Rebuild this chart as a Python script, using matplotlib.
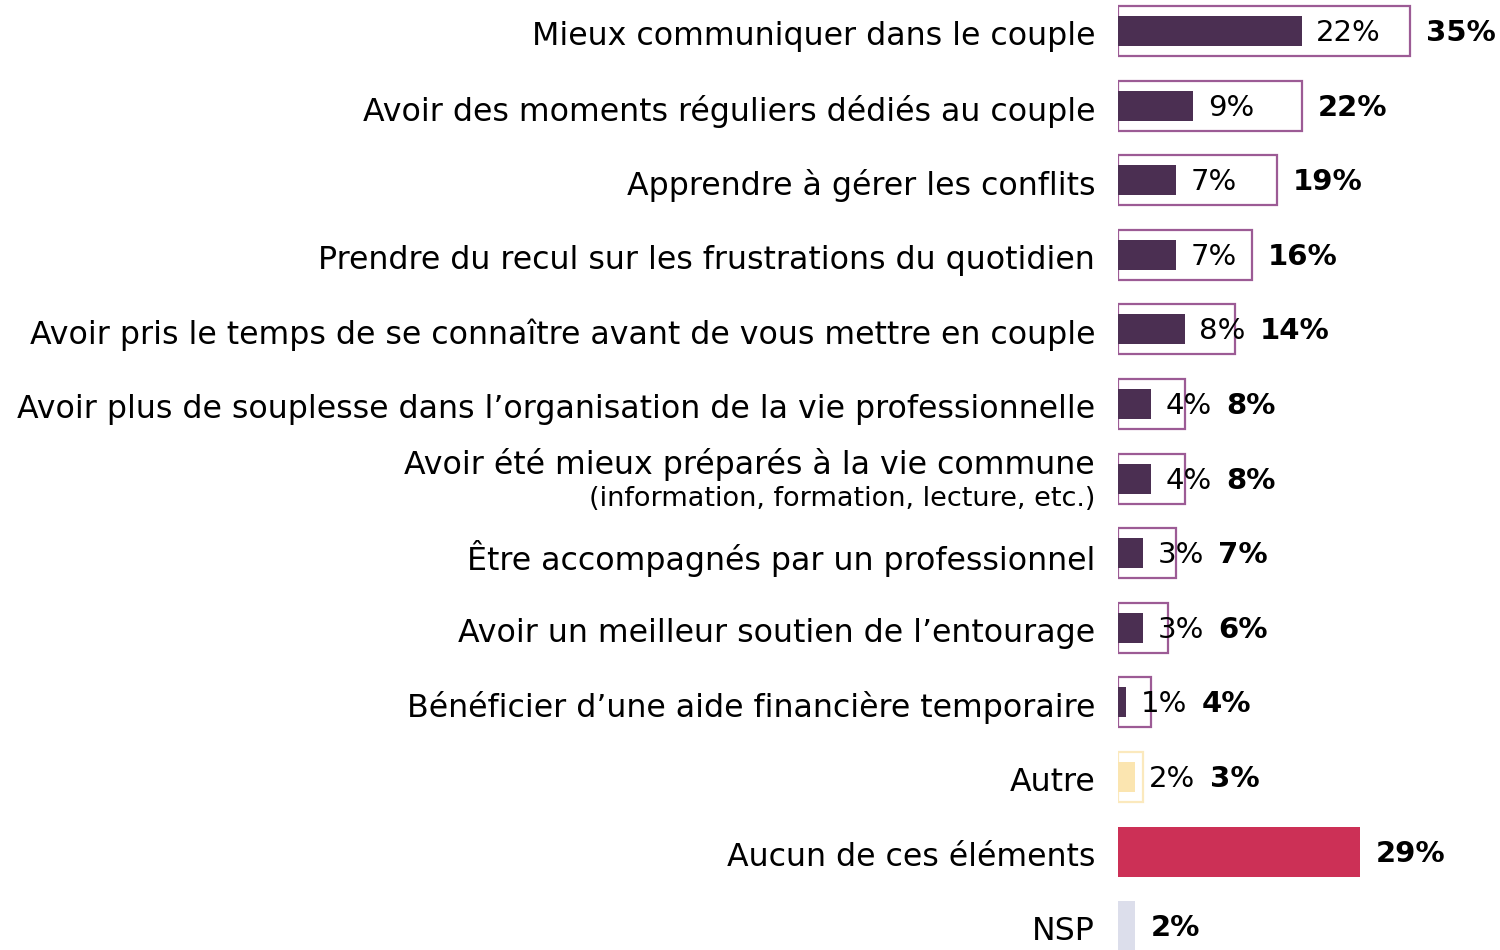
import matplotlib
matplotlib.use("Agg")
import matplotlib.pyplot as plt

plt.rcParams["font.family"] = ["DejaVu Sans"]

labels = [
    "Mieux communiquer dans le couple",
    "Avoir des moments réguliers dédiés au couple",
    "Apprendre à gérer les conflits",
    "Prendre du recul sur les frustrations du quotidien",
    "Avoir pris le temps de se connaître avant de vous mettre en couple",
    "Avoir plus de souplesse dans l’organisation de la vie professionnelle",
    "Avoir été mieux préparés à la vie commune",
    "Être accompagnés par un professionnel",
    "Avoir un meilleur soutien de l’entourage",
    "Bénéficier d’une aide financière temporaire",
    "Autre",
    "Aucun de ces éléments",
    "NSP",
]
sublabels = {6: "(information, formation, lecture, etc.)"}
first_choice = [22, 9, 7, 7, 8, 4, 4, 3, 3, 1, 2, None, None]
total = [35, 22, 19, 16, 14, 8, 8, 7, 6, 4, 3, 29, 2]

PURPLE = "#4b2f52"
EDGE = "#9c5b95"
fill_in = [PURPLE] * 10 + ["#fbe5b0", None, None]
edge_out = [EDGE] * 10 + ["#fbe9bd", None, None]
solid = {11: "#cc3056", 12: "#dcdeeb"}

W, H, DPI = 1500, 950, 100
fig = plt.figure(figsize=(W / DPI, H / DPI), dpi=DPI)

x0 = 1118
px_per_pct = 8.35
row = 74.6
top_c = 31
ax = fig.add_axes([x0 / W, (H - (top_c + 12.5 * row)) / H,
                   (W - x0) / W, 13 * row / H])
ax.set_xlim(0, (W - x0) / px_per_pct)
ax.set_ylim(12.5, -0.5)
ax.axis("off")

LAB_FS = 22.8
for i, lab in enumerate(labels):
    if i in solid:
        ax.barh(i, total[i], height=0.67, color=solid[i], linewidth=0)
    else:
        ax.barh(i, total[i], height=0.67, color="white",
                edgecolor=edge_out[i], linewidth=1.6)
        ax.barh(i, first_choice[i], height=0.4, color=fill_in[i], linewidth=0)

    if i in sublabels:
        ax.annotate(lab, xy=(0, i), xytext=(-16.5, 10), textcoords="offset points",
                    ha="right", va="center", fontsize=LAB_FS, annotation_clip=False)
        ax.annotate(sublabels[i], xy=(0, i), xytext=(-16.5, -15),
                    textcoords="offset points", ha="right", va="center",
                    fontsize=19.5, annotation_clip=False)
    else:
        ax.annotate(lab, xy=(0, i), xytext=(-16.5, -4), textcoords="offset points",
                    ha="right", va="center", fontsize=LAB_FS, annotation_clip=False)

fig.canvas.draw()
r = fig.canvas.get_renderer()
inv = ax.transData.inverted()

for i in range(len(labels)):
    end_px = ax.transData.transform((total[i], i))[0]
    bold_px = end_px + 16
    if first_choice[i] is not None:
        t = ax.annotate(f"{first_choice[i]}%", xy=(first_choice[i], i),
                        xytext=(10.5, -1.5), textcoords="offset points",
                        ha="left", va="center", fontsize=21,
                        annotation_clip=False)
        bb = t.get_window_extent(r)
        bold_px = max(bold_px, bb.x1 + 14)
    bx = inv.transform((bold_px, 0))[0]
    ax.annotate(f"{total[i]}%", xy=(bx, i), xytext=(0, -1.5),
                textcoords="offset points", ha="left", va="center",
                fontsize=21, fontweight="bold", annotation_clip=False)

fig.savefig("out.png", dpi=DPI)
